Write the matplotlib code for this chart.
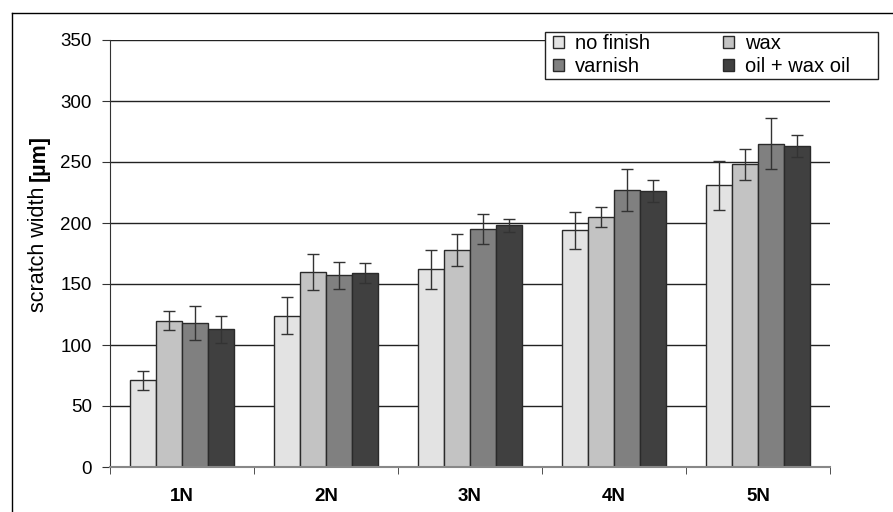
import numpy as np
import matplotlib
matplotlib.use('Agg')
from matplotlib import pyplot as plt
from matplotlib.lines import Line2D
from matplotlib.patches import Rectangle

plt.rcParams['font.family'] = ['Liberation Sans', 'DejaVu Sans']

loads = ['1N', '2N', '3N', '4N', '5N']
finishes = ['no finish', 'wax', 'varnish', 'oil + wax oil']

# mean scratch width [um] per finish, one value per load
no_finish = [71, 124, 162, 194, 231]
wax = [120, 160, 178, 205, 248]
varnish = [118, 157, 195, 227, 265]
oil_wax_oil = [113, 159, 198, 226, 263]

# standard deviations
no_finish_err = [8, 15, 16, 15, 20]
wax_err = [8, 15, 13, 8, 13]
varnish_err = [14, 11, 12, 17, 21]
oil_wax_oil_err = [11, 8, 5, 9, 9]

colors = ['#e3e3e3', '#c3c3c3', '#808080', '#404040']

means = [no_finish, wax, varnish, oil_wax_oil]
errs = [no_finish_err, wax_err, varnish_err, oil_wax_oil_err]

W, H = 893, 512
fig = plt.figure(figsize=(W / 100, H / 100), dpi=100)
ax = fig.add_axes([110 / W, 45 / H, 720 / W, 427 / H])

x = np.arange(len(loads))
width = 0.18
bars = []
for i, (vals, err, col, name) in enumerate(zip(means, errs, colors, finishes)):
    pos = x + (i - 1.5) * width
    b = ax.bar(pos, vals, width, color=col, edgecolor='#2a2a2a', linewidth=1, label=name, zorder=2)
    bars.append(b)
    ax.errorbar(pos, vals, yerr=err, fmt='none', ecolor='#333333', elinewidth=1,
                capsize=4.5, capthick=1, zorder=3)

ax.set_xlim(-0.5, len(loads) - 0.5)
ax.set_ylim(0, 350)
ax.set_yticks(np.arange(0, 351, 50))
ax.yaxis.grid(True, color='#222222', linewidth=1, zorder=0)
ax.set_axisbelow(True)

ax.set_xticks(x)
ax.set_xticklabels(loads, fontsize=13.5, fontweight='bold')
ax.set_xticks(np.arange(-0.5, len(loads)), minor=True)
ax.tick_params(axis='x', which='major', length=0, pad=15)
ax.tick_params(axis='x', which='minor', length=5, color='#333333', direction='out')
ax.tick_params(axis='y', length=6, color='#333333', labelsize=13.5, pad=7)

for s in ['top', 'right']:
    ax.spines[s].set_visible(False)
ax.spines['left'].set_color('#333333')
ax.spines['bottom'].set_color('#888888')
ax.spines['bottom'].set_linewidth(1.5)

# y label: plain words followed by a bold unit
lab = fig.text(39 / W, 1 - 312 / H, 'scratch width ', rotation=90, ha='center', va='bottom',
               fontsize=15.5)
fig.canvas.draw()
ext = lab.get_window_extent()
fig.text(39 / W, ext.y1 / H, '[µm]', rotation=90, ha='center', va='bottom',
         fontsize=15.5, fontweight='bold')

# legend filled row by row: no finish, wax / varnish, oil + wax oil
order = [0, 2, 1, 3]
leg = fig.legend([bars[i] for i in order], [finishes[i] for i in order],
                 loc='upper left', bbox_to_anchor=(553 / W, 1 - 34 / H), ncol=2,
                 fontsize=14.5, frameon=False, handlelength=0.55, handleheight=0.55,
                 handletextpad=0.55, columnspacing=3.6, borderpad=0, labelspacing=0.2,
                 borderaxespad=0)
fig.add_artist(Rectangle((545 / W, 1 - 79 / H), 333 / W, 47 / H, transform=fig.transFigure,
                         facecolor='white', edgecolor='#222222', linewidth=1, zorder=4))
leg.set_zorder(5)

# outer frame around the chart, cut off by the image at right and bottom
fig.add_artist(Line2D([12 / W, 12 / W], [0, 1 - 13 / H], color='black', linewidth=1,
                      transform=fig.transFigure))
fig.add_artist(Line2D([12 / W, 1], [1 - 13 / H, 1 - 13 / H], color='black', linewidth=1,
                      transform=fig.transFigure))

fig.savefig('out.png', dpi=100)
